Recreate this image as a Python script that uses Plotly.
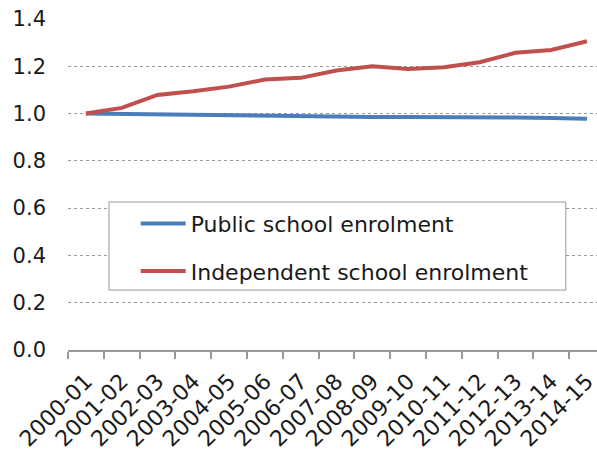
import plotly.graph_objects as go

years = ["2000-01", "2001-02", "2002-03", "2003-04", "2004-05", "2005-06", "2006-07",
         "2007-08", "2008-09", "2009-10", "2010-11", "2011-12", "2012-13", "2013-14", "2014-15"]
public = [1.000, 0.998, 0.994, 0.994, 0.993, 0.991, 0.989, 0.987, 0.986, 0.986,
          0.986, 0.985, 0.983, 0.981, 0.978]
independent = [1.000, 1.024, 1.079, 1.094, 1.114, 1.144, 1.151, 1.182, 1.200, 1.189,
               1.196, 1.217, 1.257, 1.269, 1.306]
y_ticks = [0.0, 0.2, 0.4, 0.6, 0.8, 1.0, 1.2, 1.4]

FONT = "DejaVu Sans"
fig = go.Figure()
fig.add_trace(go.Scatter(x=years, y=public, mode="lines", name="Public school enrolment",
                         line=dict(color="#4A7EBB", width=4), legendgroup="a"))
fig.add_trace(go.Scatter(x=years, y=independent, mode="lines", name="Independent school enrolment",
                         line=dict(color="#C0504D", width=4), legendgroup="b"))

fig.add_shape(type="rect", xref="paper", yref="paper", x0=0.0775, x1=0.941, y0=0.181, y1=0.447,
              line=dict(color="#999999", width=1), fillcolor="white", layer="above")

fig.update_layout(
    width=597, height=454,
    margin=dict(l=68, r=0, t=19, b=104),
    paper_bgcolor="white", plot_bgcolor="white",
    font=dict(family=FONT, size=22, color="#1a1a1a"),
    showlegend=True,
    legend=dict(x=0.128, y=0.445, xanchor="left", yanchor="top", bgcolor="rgba(0,0,0,0)",
                borderwidth=0, font=dict(size=22), tracegroupgap=16, itemwidth=45),
    xaxis=dict(type="category", range=[-0.5, 14.28], tickson="boundaries", ticks="outside",
               ticklen=7, tickcolor="#999999", tickwidth=1.5, showline=True, linecolor="#999999",
               linewidth=1.5, showgrid=False, tickangle=-45, automargin=False,
               ticklabelstandoff=8, tickfont=dict(size=22)),
    yaxis=dict(range=[0, 1.4], tickvals=y_ticks, ticktext=[f"{v:.1f}" for v in y_ticks],
               showgrid=True, gridcolor="#9a9a9a", griddash="dot", gridwidth=1,
               zeroline=False, showline=False, ticks="", ticklabelstandoff=21,
               automargin=False, tickfont=dict(size=21)),
)
fig.write_html("out.html")
